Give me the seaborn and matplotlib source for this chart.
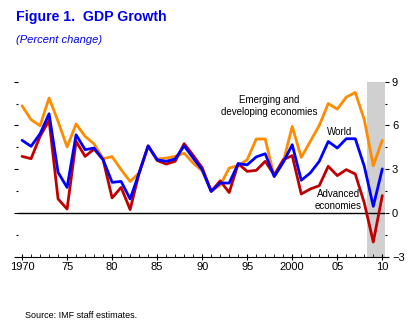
import matplotlib
matplotlib.use("Agg")
import matplotlib.pyplot as plt
import seaborn as sns
import numpy as np
import pandas as pd
from matplotlib.ticker import FixedLocator, MultipleLocator

years = list(range(1970, 2011))
emerging = [7.35, 6.4, 5.98, 7.88, 6.28, 4.52, 6.1, 5.25, 4.73, 3.72,
            3.86, 2.97, 2.16, 2.74, 4.56, 3.7, 3.76, 3.88, 4.1, 3.42,
            2.88, 1.5, 1.9, 3.08, 3.24, 3.65, 5.07, 5.07, 2.5, 3.5,
            5.93, 3.81, 4.9, 6.0, 7.5, 7.12, 7.94, 8.26, 6.39, 3.24, 4.98]
world = [4.98, 4.57, 5.43, 6.8, 2.78, 1.75, 5.36, 4.34, 4.45, 3.65,
         2.1, 2.16, 0.96, 2.74, 4.6, 3.65, 3.54, 3.7, 4.6, 3.76,
         2.97, 1.48, 2.05, 2.05, 3.38, 3.3, 3.84, 4.06, 2.5, 3.47,
         4.68, 2.24, 2.74, 3.54, 4.9, 4.45, 5.09, 5.09, 3.2, 0.45, 3.02]
advanced = [3.88, 3.72, 5.25, 6.35, 0.96, 0.27, 4.91, 3.88, 4.38, 3.65,
            1.03, 1.75, 0.23, 2.74, 4.6, 3.6, 3.35, 3.54, 4.75, 3.95,
            3.1, 1.48, 2.2, 1.4, 3.38, 2.85, 2.92, 3.54, 2.6, 3.65,
            3.93, 1.3, 1.64, 1.87, 3.2, 2.56, 2.97, 2.67, 0.69, -1.99, 1.19]

series_names = ["Emerging and developing economies", "Advanced economies", "World"]
series_colors = ["#FF8C00", "#C00000", "#0000FF"]
x_tick_years = [1970, 1975, 1980, 1985, 1990, 1995, 2000, 2005, 2010]
x_tick_labels = ["1970", "75", "80", "85", "90", "95", "2000", "05", "10"]
y_ticks = [-3, 0, 3, 6, 9]

df = pd.DataFrame({
    "year": years * 3,
    "value": emerging + advanced + world,
    "series": [series_names[0]] * len(years) + [series_names[1]] * len(years) + [series_names[2]] * len(years),
})

sns.set_theme(style="white")
plt.rcParams["font.family"] = ["Liberation Sans", "DejaVu Sans"]

fig = plt.figure(figsize=(4.12, 3.34), dpi=100)
ax = fig.add_axes([18 / 412, 1 - 256.7 / 334, (385 - 18) / 412, (256.7 - 81.7) / 334])

ax.axvspan(2008.3, 2010.25, color="#d0d0d0", lw=0, zorder=0)
ax.axhline(0, color="black", lw=1.0, zorder=1)

sns.lineplot(data=df, x="year", y="value", hue="series", hue_order=series_names,
             palette=series_colors, lw=2.0, ax=ax, legend=False, zorder=3)

ax.set_xlim(1969.55, 2010.3)
ax.set_ylim(-3, 9)
ax.set_xlabel("")
ax.set_ylabel("")

for s in ["left", "top", "right"]:
    ax.spines[s].set_visible(False)
ax.spines["bottom"].set_color("black")
ax.spines["bottom"].set_linewidth(0.8)

ax.xaxis.set_major_locator(FixedLocator(x_tick_years))
ax.set_xticklabels(x_tick_labels)
ax.xaxis.set_minor_locator(MultipleLocator(1))
ax.tick_params(axis="x", which="major", bottom=True, direction="inout", length=5, width=0.8,
               colors="black", labelsize=8, pad=1)
ax.tick_params(axis="x", which="minor", bottom=True, direction="in", length=2.5, width=0.6, colors="black")

ax.yaxis.set_major_locator(FixedLocator(y_ticks))
ax.yaxis.set_minor_locator(FixedLocator([-1.5, 1.5, 4.5, 7.5]))
ax.tick_params(axis="y", which="major", left=True, right=True, labelleft=False, labelright=True,
               direction="out", length=3, width=0.8, colors="black", labelsize=8, pad=2)
ax.tick_params(axis="y", which="minor", left=True, right=True, direction="out", length=1.5,
               width=0.8, colors="black")
ax.grid(False)

ax.text(1997.4, 7.35, "Emerging and\ndeveloping economies", ha="center", va="center",
        fontsize=7, linespacing=1.2, color="black")
ax.text(2005.25, 5.57, "World", ha="center", va="center", fontsize=7, color="black")
ax.text(2005.1, 0.9, "Advanced\neconomies", ha="center", va="center",
        fontsize=7, linespacing=1.2, color="black")

fig.text(16 / 412, 1 - 17 / 334, "Figure 1.  GDP Growth", ha="left", va="center",
         fontsize=10.2, fontweight="bold", color="#0000EE")
fig.text(16 / 412, 1 - 40 / 334, "(Percent change)", ha="left", va="center",
         fontsize=8, fontstyle="italic", color="#0000EE")
fig.text(25 / 412, 1 - 315 / 334, "Source: IMF staff estimates.", ha="left", va="center",
         fontsize=6.5, color="black")

fig.savefig("out.png", dpi=100)
